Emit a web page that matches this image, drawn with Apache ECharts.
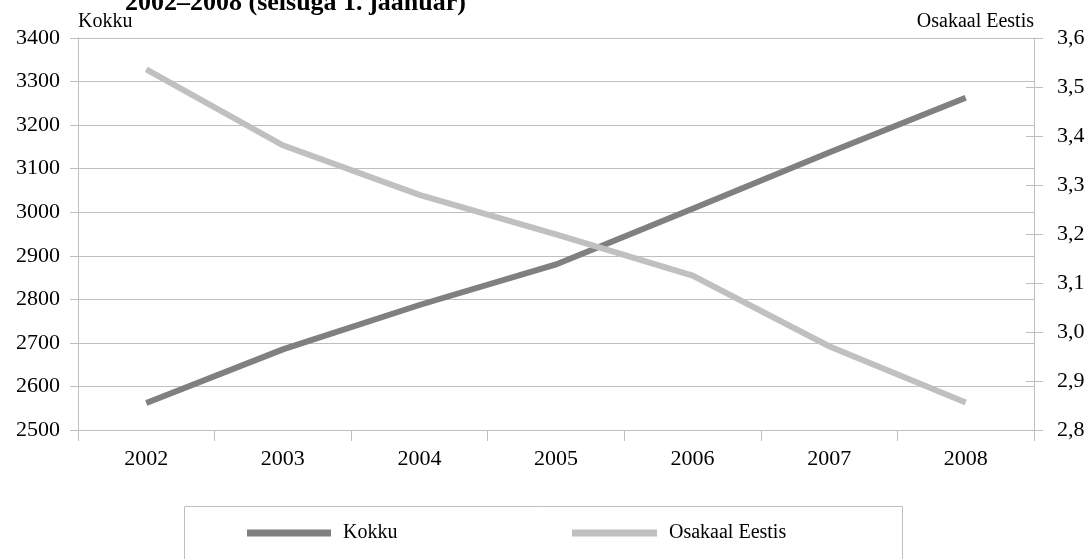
<!DOCTYPE html>
<html>
<head>
<meta charset="utf-8">
<script src="https://cdn.jsdelivr.net/npm/echarts@6/dist/echarts.min.js"></script>
<style>
html,body{margin:0;padding:0;background:#fff;}
#chart{width:1088px;height:559px;}
</style>
</head>
<body>
<div id="chart"></div>
<script>
const years = ['2002','2003','2004','2005','2006','2007','2008'];
const kokku = [2562, 2685, 2787, 2880, 3008, 3137, 3263];
const osakaal = [3.536, 3.381, 3.28, 3.199, 3.115, 2.971, 2.856];
const seriesNames = ['Kokku', 'Osakaal Eestis'];
const titleText = '2002–2008 (seisuga 1. jaanuar)';

const FONT = '"Liberation Serif", "DejaVu Serif", serif';
const GRID = '#bfbfbf';
const DARK = '#808080';
const LIGHT = '#c0c0c0';

const chart = echarts.init(document.getElementById('chart'));
chart.setOption({
  animation: false,
  backgroundColor: '#fff',
  textStyle: { fontFamily: FONT, color: '#000' },
  title: {
    text: titleText,
    left: 125, top: -10, padding: 0,
    textStyle: { fontFamily: FONT, fontSize: 26, fontWeight: 'bold', color: '#000' }
  },
  grid: { left: 78, right: 54, top: 38, bottom: 129, containLabel: false },
  xAxis: {
    type: 'category',
    data: years,
    boundaryGap: true,
    axisLine: { lineStyle: { color: GRID, width: 1 } },
    axisTick: { show: true, length: 11, lineStyle: { color: GRID } },
    axisLabel: { fontFamily: FONT, fontSize: 22, color: '#000', margin: 18 },
    splitLine: { show: false }
  },
  yAxis: [
    {
      type: 'value', position: 'left',
      min: 2500, max: 3400, interval: 100,
      name: seriesNames[0], nameLocation: 'end', nameGap: 6,
      nameTextStyle: { fontFamily: FONT, fontSize: 20, color: '#000', align: 'left', verticalAlign: 'bottom' },
      axisLine: { show: true, lineStyle: { color: GRID } },
      axisTick: { show: true, length: 8, lineStyle: { color: GRID } },
      axisLabel: { fontFamily: FONT, fontSize: 22, color: '#000', margin: 18, formatter: v => String(v) },
      splitLine: { show: true, lineStyle: { color: GRID, width: 1 } }
    },
    {
      type: 'value', position: 'right',
      min: 2.8, max: 3.6, interval: 0.1,
      name: seriesNames[1], nameLocation: 'end', nameGap: 6,
      nameTextStyle: { fontFamily: FONT, fontSize: 20, color: '#000', align: 'right', verticalAlign: 'bottom' },
      axisLine: { show: true, lineStyle: { color: GRID } },
      axisTick: { show: true, length: 9, lineStyle: { color: GRID } },
      axisLabel: { fontFamily: FONT, fontSize: 22, color: '#000', margin: 23, formatter: v => v.toFixed(1).replace('.', ',') },
      splitLine: { show: false }
    },
    {
      type: 'value', position: 'right',
      min: 2.8, max: 3.6, interval: 0.1,
      axisLine: { show: false },
      axisTick: { show: true, inside: true, length: 8, lineStyle: { color: GRID } },
      axisLabel: { show: false },
      splitLine: { show: false }
    }
  ],
  legend: [
    {
      data: [seriesNames[0]],
      left: 247, top: 523, padding: 0,
      icon: 'rect', itemWidth: 84, itemHeight: 7,
      textStyle: { fontFamily: FONT, fontSize: 20, color: '#000', padding: [0, 0, 0, 7] }
    },
    {
      data: [seriesNames[1]],
      left: 572, top: 523, padding: 0,
      icon: 'rect', itemWidth: 85, itemHeight: 7,
      textStyle: { fontFamily: FONT, fontSize: 20, color: '#000', padding: [0, 0, 0, 7] }
    }
  ],
  graphic: [
    {
      type: 'rect', left: 182, top: 504, silent: true,
      shape: { width: 718, height: 80 },
      style: { fill: 'none', stroke: GRID, lineWidth: 1 }
    }
  ],
  series: [
    {
      name: seriesNames[0], type: 'line', yAxisIndex: 0,
      data: kokku, symbol: 'none', color: DARK,
      lineStyle: { color: DARK, width: 6, cap: 'butt', join: 'miter' }
    },
    {
      name: seriesNames[1], type: 'line', yAxisIndex: 1,
      data: osakaal, symbol: 'none', color: LIGHT,
      lineStyle: { color: LIGHT, width: 6, cap: 'butt', join: 'miter' }
    }
  ]
});
</script>
</body>
</html>
